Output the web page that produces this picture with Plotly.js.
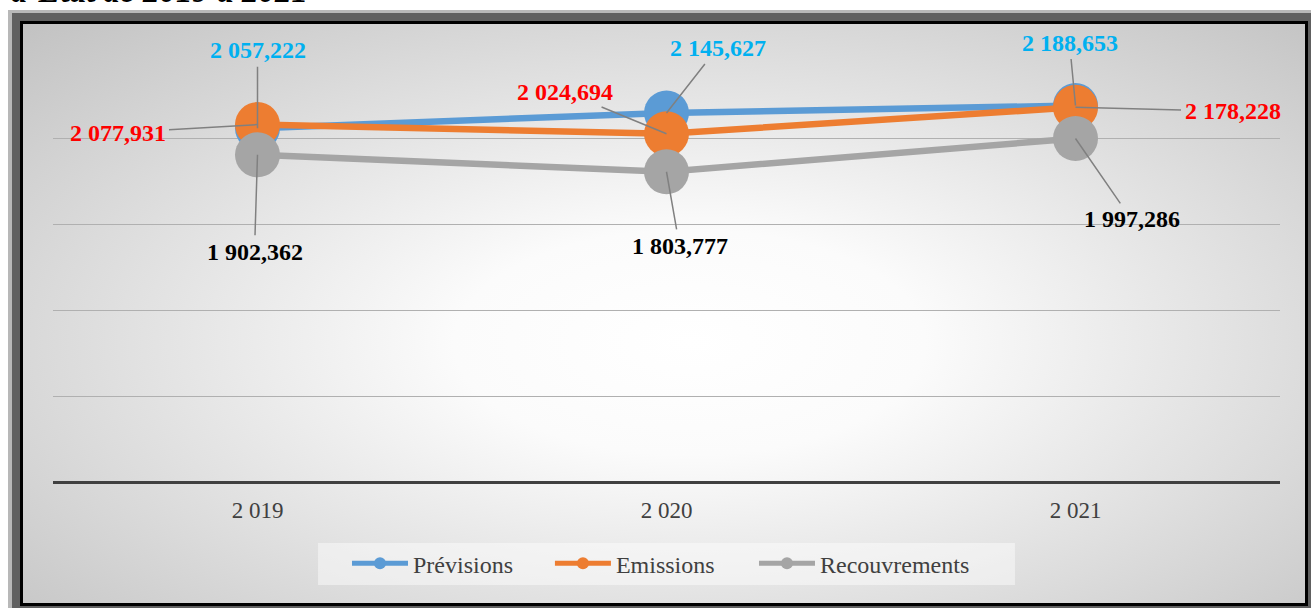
<!DOCTYPE html>
<html>
<head>
<meta charset="utf-8">
<script src="https://cdn.plot.ly/plotly-3.0.1.min.js"></script>
<style>
  html, body { margin: 0; padding: 0; width: 1311px; height: 608px; overflow: hidden; background: #ffffff; }
  #f1 { position: absolute; left: 8px; top: 10px; width: 1310px; height: 600px; background: #b8b8b8; }
  #f2 { position: absolute; left: 12px; top: 13px; width: 1300px; height: 596px; background: #606060; }
  #f3 { position: absolute; left: 20px; top: 21px; width: 1288px; height: 585px; background: #000000; }
  #f4 { position: absolute; left: 23px; top: 24px; width: 1282px; height: 579px;
        background: radial-gradient(ellipse farthest-corner at 52% 55%, #ffffff 0%, #fbfbfb 25%, #c2c2c2 100%); }
  #chart { position: absolute; left: 0; top: 0; width: 1311px; height: 608px; }
</style>
</head>
<body>
<div id="f1"></div><div id="f2"></div><div id="f3"></div><div id="f4"></div>
<div id="chart"></div>
<script>
// ---- data ----
const years = ['2 019', '2 020', '2 021'];
const seriesNames = ['Prévisions', 'Emissions', 'Recouvrements'];
const previsions = [2057.222, 2145.627, 2188.653];
const emissions = [2077.931, 2024.694, 2178.228];
const recouvrements = [1902.362, 1803.777, 1997.286];
const titleText = "d’Etat de 2019 à 2021";

// ---- style ----
const lineColors = ['#5b9bd5', '#ed7d31', '#a5a5a5'];
const labelColors = ['#00b0f0', '#ff0000', '#000000'];
const labelOffsets = [
  [[0, -78], [51, -65], [-6, -63]],
  [[-140, 8], [-102, -42], [157, 4]],
  [[-3, 97], [13, 74], [56, 81]]
];
const legendIds = ['legend', 'legend2', 'legend3'];
const legendX = [0.2396, 0.4050, 0.5713];
const serif = 'Liberation Serif';

function fmt(v) {
  const parts = v.toFixed(3).split('.');
  const intPart = parts[0].replace(/\B(?=(\d{3})+(?!\d))/g, ' ');
  return intPart + ',' + parts[1];
}

const allValues = [previsions, emissions, recouvrements];
const traces = allValues.map((vals, i) => ({
  type: 'scatter',
  mode: 'lines+markers',
  name: seriesNames[i],
  legend: legendIds[i],
  x: years,
  y: vals,
  line: { color: lineColors[i], width: 6.5 },
  marker: { color: lineColors[i], size: 45 },
  cliponaxis: false
}));

const annotations = [];
allValues.forEach((vals, i) => {
  vals.forEach((v, j) => {
    annotations.push({
      x: years[j], y: v, xref: 'x', yref: 'y',
      text: fmt(v),
      showarrow: true, arrowhead: 0, arrowwidth: 1.5, arrowcolor: '#808080',
      standoff: 0, startstandoff: 2,
      ax: labelOffsets[i][j][0], ay: labelOffsets[i][j][1],
      font: { family: serif, size: 24, color: labelColors[i], weight: 'bold' }
    });
  });
});

annotations.push({
  xref: 'paper', yref: 'paper', x: -0.0355, y: 1.142,
  xanchor: 'left', yanchor: 'middle', showarrow: false,
  text: titleText,
  font: { family: serif, size: 33, color: '#000000', weight: 'bold', style: 'italic' }
});

const layout = {
  width: 1311, height: 608,
  margin: { l: 53, r: 31, t: 52, b: 126 },
  paper_bgcolor: 'rgba(0,0,0,0)',
  plot_bgcolor: 'rgba(0,0,0,0)',
  showlegend: true,
  xaxis: {
    type: 'category', range: [-0.5, 2.5],
    showgrid: false, showline: false, zeroline: false, ticks: '',
    tickfont: { family: serif, size: 23, color: '#404040' },
    ticklabelstandoff: 12
  },
  yaxis: {
    range: [0, 2500], dtick: 500, showticklabels: false, ticks: '',
    showgrid: true, gridcolor: '#b0b0b0', gridwidth: 1,
    zeroline: true, zerolinecolor: '#404040', zerolinewidth: 3, showline: false
  },
  shapes: [{
    type: 'rect', xref: 'paper', yref: 'paper', layer: 'below',
    x0: 0.216, x1: 0.784, y0: -0.1419, y1: -0.2395,
    fillcolor: 'rgba(255,255,255,0.45)', line: { width: 0 }
  }],
  annotations: annotations
};

legendIds.forEach((id, i) => {
  layout[id] = {
    orientation: 'h', x: legendX[i], xanchor: 'left', y: -0.19, yanchor: 'middle',
    bgcolor: 'rgba(0,0,0,0)',
    font: { family: serif, size: 24, color: '#404040' },
    itemsizing: 'constant', itemwidth: 56
  };
});

Plotly.newPlot('chart', traces, layout, { displayModeBar: false, staticPlot: true });
</script>
</body>
</html>
